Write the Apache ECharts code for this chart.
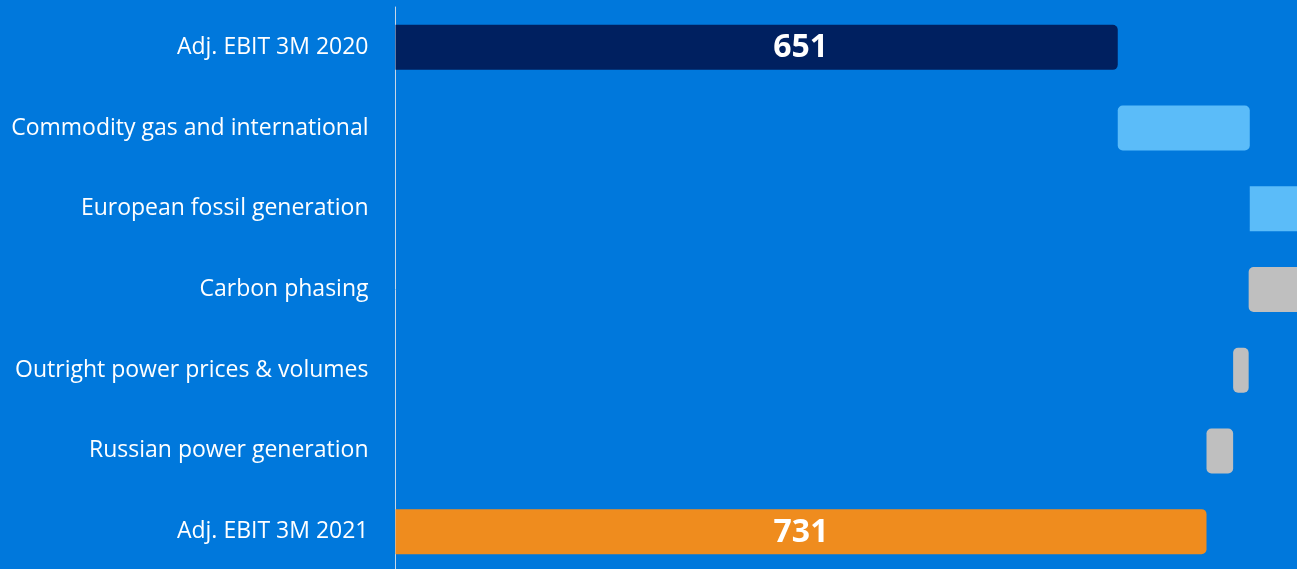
<!DOCTYPE html>
<html>
<head>
<meta charset="utf-8">
<script src="https://cdn.jsdelivr.net/npm/echarts@6/dist/echarts.min.js"></script>
<style>
html,body{margin:0;padding:0;background:#0078dc;overflow:hidden;width:1297px;height:569px;}
#c{width:1394px;height:572px;}
</style>
</head>
<body>
<div id="c"></div>
<script>
const categories = [
  'Adj. EBIT 3M 2020',
  'Commodity gas and international',
  'European fossil generation',
  'Carbon phasing',
  'Outright power prices & volumes',
  'Russian power generation',
  'Adj. EBIT 3M 2021'
];
// first and last are totals, others are changes
const values = [651, 119, 100, -101, -14, -24, 731];
const barColors = ['#002060', '#5bbcf9', '#5bbcf9', '#bfbfbf', '#bfbfbf', '#bfbfbf', '#ef8c1e'];

const baseData = [];
const barData = [];
let cum = 0;
values.forEach((v, i) => {
  const isTotal = (i === 0 || i === values.length - 1);
  let base, len;
  if (isTotal) { base = 0; len = v; cum = v; }
  else if (v >= 0) { base = cum; len = v; cum += v; }
  else { cum += v; base = cum; len = -v; }
  baseData.push(base);
  const radius = (i === 2) ? [0, 5, 5, 0] : isTotal ? [0, 5, 5, 0] : 5;
  barData.push({
    value: len,
    itemStyle: { color: barColors[i], borderRadius: radius },
    label: isTotal ? {
      show: true,
      position: 'inside',
      offset: [i === 0 ? 44 : 0, 1],
      formatter: String(v),
      color: '#ffffff',
      fontSize: 32,
      fontWeight: 'bold',
      fontFamily: 'Open Sans'
    } : { show: false }
  });
});

const chart = echarts.init(document.getElementById('c'), null, { renderer: 'canvas' });
chart.setOption({
  backgroundColor: '#0078dc',
  animation: false,
  grid: { left: 395.5, right: 0, top: 7, bottom: 0, containLabel: false },
  xAxis: {
    type: 'value', min: 0, max: 900,
    show: false
  },
  yAxis: {
    type: 'category', data: categories, inverse: true,
    axisLine: { show: true, lineStyle: { color: '#c8d6e6', width: 1 } },
    axisTick: { show: false },
    axisLabel: { color: '#ffffff', fontSize: 23, fontFamily: 'Open Sans', margin: 27 }
  },
  series: [
    { type: 'bar', stack: 'w', data: baseData, barWidth: 45, itemStyle: { color: 'transparent' }, silent: true },
    { type: 'bar', stack: 'w', data: barData, barWidth: 45 }
  ]
});
</script>
</body>
</html>
